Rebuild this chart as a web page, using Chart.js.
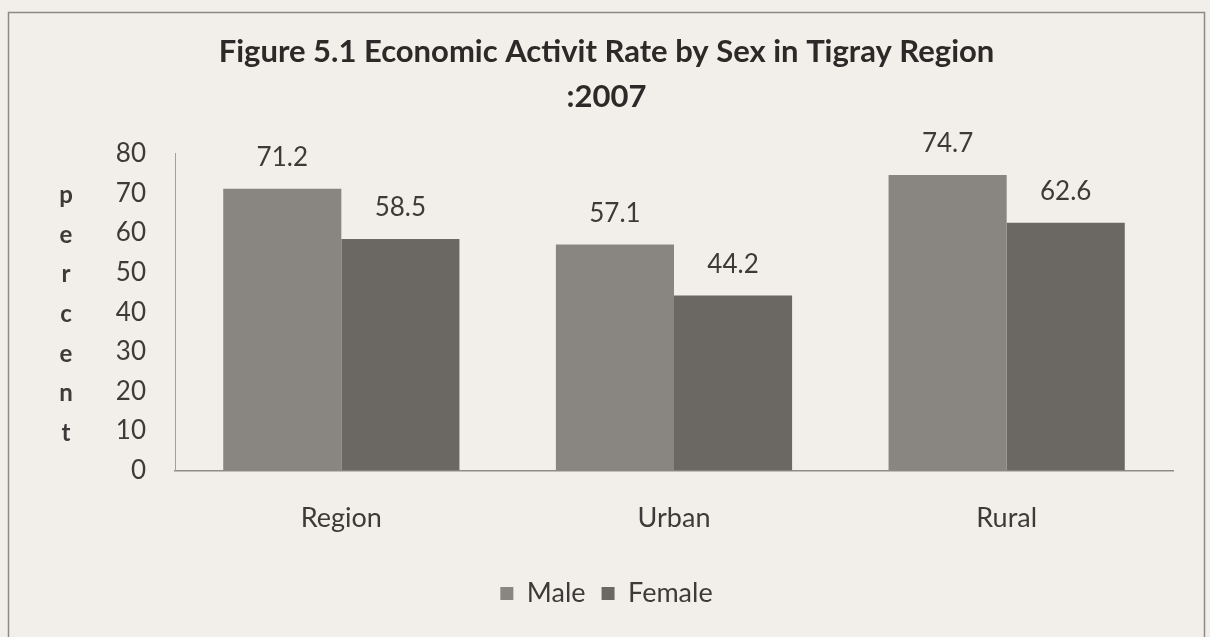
<!DOCTYPE html>
<html>
<head>
<meta charset="utf-8">
<script src="https://cdn.jsdelivr.net/npm/chart.js@4"></script>
<style>
  html, body { margin: 0; padding: 0; background: #f2efea; }
  #wrap { width: 1210px; height: 637px; }
</style>
</head>
<body>
<div id="wrap"><canvas id="mycanvas" width="1210" height="637"></canvas></div>
<script>
var categories = ['Region', 'Urban', 'Rural'];
var male = [71.2, 57.1, 74.7];
var female = [58.5, 44.2, 62.6];
var yTicks = [0, 10, 20, 30, 40, 50, 60, 70, 80];
var axisLetters = ['p', 'e', 'r', 'c', 'e', 'n', 't'];

var textColor = '#3d3b39';

// frame + paper background
var paper = {
	id: 'paper',
	beforeDraw: function(chart) {
		var c = chart.ctx;
		c.save();
		c.fillStyle = '#f2efea';
		c.fillRect(0, 0, chart.width, chart.height);
		c.strokeStyle = '#8d8a86';
		c.lineWidth = 1.5;
		c.strokeRect(8.5, 12.5, 1196, 640);
		c.restore();
	}
};

// value labels above the bars and stacked "percent" letters
var extras = {
	id: 'extras',
	afterDatasetsDraw: function(chart) {
		var c = chart.ctx;
		c.save();
		c.fillStyle = textColor;
		c.font = '26px Lato';
		c.textAlign = 'center';
		c.textBaseline = 'middle';
		chart.data.datasets.forEach(function(ds, i) {
			chart.getDatasetMeta(i).data.forEach(function(bar, j) {
				c.fillText(ds.data[j].toFixed(1), bar.x, bar.y - 31);
			});
		});
		c.font = 'bold 24px Lato';
		var y = chart.scales.y;
		for (var k = 0; k < axisLetters.length; k++) {
			c.fillText(axisLetters[k], 66, y.getPixelForValue(70 - k * 10) + 2);
		}
		c.restore();
	}
};

var chartdata = {
	labels: categories,
	datasets: [
		{ label: 'Male', backgroundColor: '#898581', data: male },
		{ label: 'Female', backgroundColor: '#6b6763', data: female }
	]
};

new Chart(document.getElementById('mycanvas'), {
	type: 'bar',
	data: chartdata,
	plugins: [paper, extras],
	options: {
		responsive: false,
		animation: false,
		layout: { padding: { left: 40, right: 37, top: 30, bottom: 20 } },
		datasets: { bar: { barPercentage: 1.0, categoryPercentage: 0.71 } },
		plugins: {
			title: {
				display: true,
				text: ['Figure 5.1 Economic Activit Rate by Sex in Tigray Region', ':2007'],
				color: '#2b2a28',
				font: { family: 'Lato', size: 31, weight: 'bold', lineHeight: 1.45 },
				padding: { top: 0, bottom: 34 }
			},
			legend: {
				position: 'bottom',
				labels: {
					color: textColor,
					font: { family: 'Lato', size: 27 },
					boxWidth: 13, boxHeight: 13, padding: 16
				}
			},
			tooltip: { enabled: false }
		},
		scales: {
			x: {
				afterFit: function(s) { s.height += 7; },
				grid: { display: false },
				border: { color: '#8f8c88', width: 1.5 },
				ticks: { color: textColor, font: { family: 'Lato', size: 27 }, padding: 23 }
			},
			y: {
				min: 0, max: 80,
				afterBuildTicks: function(s) { s.ticks = yTicks.map(function(v) { return { value: v }; }); },
				afterFit: function(s) { s.width = 135; },
				grid: { display: false },
				border: { color: '#a3a09c', width: 1 },
				ticks: { color: textColor, font: { family: 'Lato', size: 26 }, padding: 21 }
			}
		}
	}
});
</script>
</body>
</html>
